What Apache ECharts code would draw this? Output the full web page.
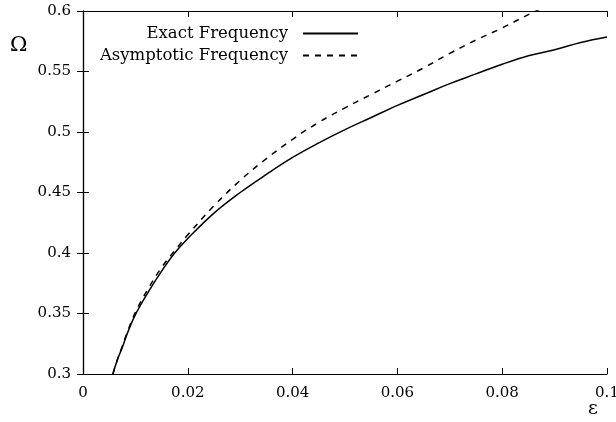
<!DOCTYPE html>
<html><head><meta charset="utf-8">
<script src="https://cdn.jsdelivr.net/npm/echarts@6/dist/echarts.min.js"></script>
<style>html,body{margin:0;padding:0;background:#fff}#c{width:616px;height:422px}</style>
</head><body><div id="c"></div>
<script>
const exactEps = [0.0057,0.0065,0.0075,0.0085,0.01,0.0125,0.015,0.0175,0.02,0.025,0.03,0.035,0.04,0.045,0.05,0.055,0.06,0.065,0.07,0.075,0.08,0.085,0.09,0.095,0.1];
const exactOmega = [0.300,0.311,0.322,0.334,0.349,0.368,0.385,0.400,0.412,0.433,0.450,0.465,0.479,0.491,0.502,0.512,0.522,0.531,0.540,0.548,0.556,0.563,0.568,0.574,0.5785];
const asymEps = [0.0057,0.0065,0.0075,0.0085,0.01,0.0125,0.015,0.0175,0.02,0.025,0.03,0.035,0.04,0.045,0.05,0.055,0.06,0.065,0.07,0.075,0.08,0.085,0.09];
const asymOmega = [0.300,0.311,0.323,0.335,0.351,0.371,0.388,0.402,0.415,0.439,0.460,0.478,0.494,0.508,0.520,0.531,0.542,0.553,0.565,0.576,0.586,0.597,0.607];
const seriesNames = ['Exact Frequency','Asymptotic Frequency'];
const xTicks = [0,0.02,0.04,0.06,0.08,0.1];
const yTicks = [0.3,0.35,0.4,0.45,0.5,0.55,0.6];
const xName = 'ε';
const yName = 'Ω';

const font = '"DejaVu Serif", "Liberation Serif", serif';
const chart = echarts.init(document.getElementById('c'));
const axisLine = {show:true, lineStyle:{color:'#000', width:1.2}};
const tick = {show:true, inside:true, length:6, lineStyle:{color:'#000', width:1}};
chart.setOption({
  animation:false,
  grid:{left:83, right:9, top:11, bottom:48, containLabel:false, outerBoundsMode:'none'},
  title:[
    {text:xName, left:588, top:400, padding:0, textStyle:{fontFamily:font, fontSize:19, fontWeight:'normal', color:'#000'}},
    {text:yName, left:10, top:35, padding:0, textStyle:{fontFamily:font, fontSize:21, fontWeight:'normal', color:'#000'}}
  ],
  legend:{
    orient:'vertical', right:252, top:20, align:'right', itemWidth:55, itemHeight:10, itemGap:5,
    itemStyle:{opacity:0},
    textStyle:{fontFamily:font, fontSize:16.5, color:'#000', padding:[0,10,0,0]},
    data:seriesNames
  },
  xAxis:[
    {type:'value', min:xTicks[0], max:xTicks[xTicks.length-1], interval:0.02, axisLine, axisTick:tick, splitLine:{show:false},
     axisLabel:{fontFamily:font, fontSize:15, color:'#000', margin:12}},
    {type:'value', position:'top', min:0, max:0.1, interval:0.02, axisLine, axisTick:tick, axisLabel:{show:false}, splitLine:{show:false}}
  ],
  yAxis:[
    {type:'value', min:yTicks[0], max:yTicks[yTicks.length-1], interval:0.05, axisLine, axisTick:tick, splitLine:{show:false},
     axisLabel:{fontFamily:font, fontSize:15, color:'#000', margin:12}},
    {type:'value', position:'right', min:0.3, max:0.6, interval:0.05, axisLine, axisTick:tick, axisLabel:{show:false}, splitLine:{show:false}}
  ],
  series:[
    {name:seriesNames[0], type:'line', showSymbol:false, symbol:'none', smooth:0.4, clip:true,
     lineStyle:{color:'#000', width:1.5}, itemStyle:{color:'#000'},
     data:exactEps.map((e,i)=>[e,exactOmega[i]])},
    {name:seriesNames[1], type:'line', showSymbol:false, symbol:'none', smooth:0.4, clip:true,
     lineStyle:{color:'#000', width:1.5, type:[6,6]}, itemStyle:{color:'#000'},
     data:asymEps.map((e,i)=>[e,asymOmega[i]])}
  ]
});
</script></body></html>
